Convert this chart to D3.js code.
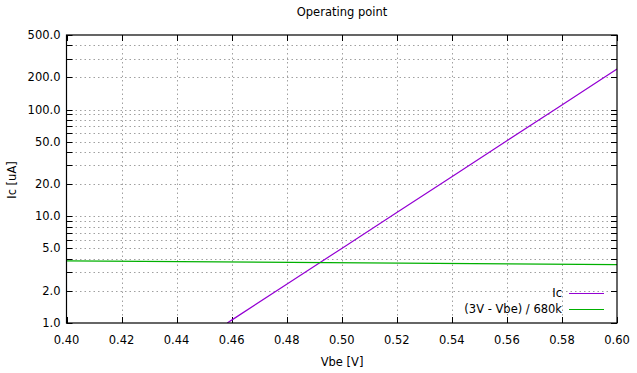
<!DOCTYPE html>
<html>
<head>
<meta charset="utf-8">
<script src="https://cdn.jsdelivr.net/npm/d3@7"></script>
<style>
body { margin: 0; background: #fff; }
text { font-family: "DejaVu Sans", sans-serif; font-size: 11.5px; fill: #000; }
</style>
</head>
<body>
<script>
// values
var icVbe = [0.4584, 0.46, 0.48, 0.50, 0.52, 0.54, 0.56, 0.58, 0.60];
var icUA  = [1.0, 1.064, 2.31, 5.0, 10.85, 23.5, 51.0, 110.6, 240.0];
var loadVbe = [0.40, 0.60];
var loadUA  = [3.82, 3.53];
var xTicks = [0.40, 0.42, 0.44, 0.46, 0.48, 0.50, 0.52, 0.54, 0.56, 0.58, 0.60];
var yMajor = [1, 2, 5, 10, 20, 50, 100, 200, 500];
var yMinor = [3, 4, 6, 7, 8, 9, 30, 40, 60, 70, 80, 90, 300, 400];
var seriesNames = ["Ic", "(3V - Vbe) / 680k"];
var seriesColors = ["#9400d3", "#00b000"];

var width = 637, height = 373;
var mLeft = 66.5, mRight = 617, mTop = 35, mBottom = 323;

var svg = d3.select("body").append("svg")
    .attr("width", width)
    .attr("height", height);

var x = d3.scaleLinear().domain([0.40, 0.60]).range([mLeft, mRight]);
var y = d3.scaleLog().domain([1, 500]).range([mBottom, mTop]);

var grid = svg.append("g")
    .attr("stroke", "#a0a0a0")
    .attr("stroke-width", 1)
    .attr("stroke-dasharray", "1.5,3");

// vertical grid
grid.selectAll("line.vx")
    .data(xTicks.slice(1, -1)).enter()
    .append("line")
    .attr("x1", function(d){ return Math.round(x(d)) + 0.5; })
    .attr("x2", function(d){ return Math.round(x(d)) + 0.5; })
    .attr("y1", mTop).attr("y2", mBottom);

// horizontal grid
grid.selectAll("line.hy")
    .data(yMajor.slice(1, -1).concat(yMinor)).enter()
    .append("line")
    .attr("x1", mLeft).attr("x2", mRight)
    .attr("y1", function(d){ return Math.round(y(d)) + 0.5; })
    .attr("y2", function(d){ return Math.round(y(d)) + 0.5; });

// ticks, inward on all four sides
var ticks = svg.append("g").attr("stroke", "#000").attr("stroke-width", 1);
var tl = 6;
xTicks.forEach(function(d){
    var px = Math.round(x(d)) + 0.5;
    ticks.append("line").attr("x1", px).attr("x2", px).attr("y1", mBottom).attr("y2", mBottom - tl);
    ticks.append("line").attr("x1", px).attr("x2", px).attr("y1", mTop).attr("y2", mTop + tl);
});
yMajor.concat(yMinor).forEach(function(d){
    var py = Math.round(y(d)) + 0.5;
    ticks.append("line").attr("x1", mLeft).attr("x2", mLeft + tl).attr("y1", py).attr("y2", py);
    ticks.append("line").attr("x1", mRight).attr("x2", mRight - tl).attr("y1", py).attr("y2", py);
});

// tick labels
svg.selectAll("text.xl")
    .data(xTicks).enter()
    .append("text")
    .attr("x", function(d){ return x(d); })
    .attr("y", mBottom + 21)
    .attr("text-anchor", "middle")
    .text(function(d){ return d.toFixed(2); });

svg.selectAll("text.yl")
    .data(yMajor).enter()
    .append("text")
    .attr("x", mLeft - 6)
    .attr("y", function(d){ return y(d) + 4; })
    .attr("text-anchor", "end")
    .text(function(d){ return d.toFixed(1); });

// series
svg.append("clipPath").attr("id", "clip")
    .append("rect").attr("x", mLeft).attr("y", mTop).attr("width", mRight - mLeft).attr("height", mBottom - mTop);

var line = d3.line()
    .x(function(d){ return x(d[0]); })
    .y(function(d){ return y(d[1]); });

var series = [d3.zip(icVbe, icUA), d3.zip(loadVbe, loadUA)];
svg.selectAll("path.s")
    .data(series).enter()
    .append("path")
    .attr("clip-path", "url(#clip)")
    .attr("fill", "none")
    .attr("stroke", function(d, i){ return seriesColors[i]; })
    .attr("stroke-width", 1.2)
    .attr("d", line);

// border
svg.append("rect")
    .attr("x", mLeft).attr("y", mTop)
    .attr("width", mRight - mLeft).attr("height", mBottom - mTop)
    .attr("fill", "none").attr("stroke", "#000").attr("stroke-width", 1.2);

// legend
var legend = svg.append("g");
seriesNames.forEach(function(name, i){
    var ly = 293 + i * 16;
    legend.append("text")
        .attr("x", 562).attr("y", ly + 4)
        .attr("text-anchor", "end")
        .text(name);
    legend.append("line")
        .attr("x1", 569).attr("x2", 604)
        .attr("y1", ly + 0.5).attr("y2", ly + 0.5)
        .attr("stroke", seriesColors[i]).attr("stroke-width", 1.2);
});

// titles
svg.append("text")
    .attr("x", 342).attr("y", 16)
    .attr("text-anchor", "middle")
    .text("Operating point");

svg.append("text")
    .attr("x", 342).attr("y", 366)
    .attr("text-anchor", "middle")
    .text("Vbe [V]");

svg.append("text")
    .attr("transform", "translate(16,180) rotate(-90)")
    .attr("text-anchor", "middle")
    .text("Ic [uA]");
</script>
</body>
</html>
